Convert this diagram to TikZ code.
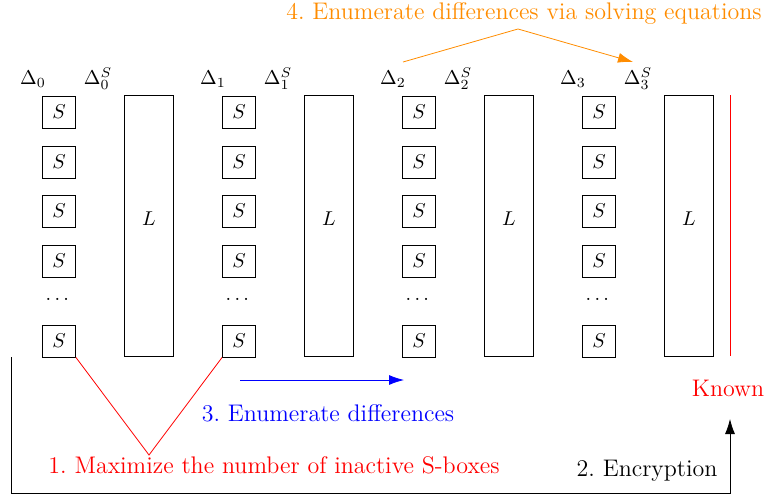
\documentclass[tikz,border=0pt]{standalone}
\usepackage{amsmath,amssymb}
\usetikzlibrary{arrows.meta}
\definecolor{darkorange}{RGB}{255,140,0}

\begin{document}
\begin{tikzpicture}[x=0.5pt, y=-0.5pt, sbox/.style = {draw, rectangle, inner sep=0pt, minimum width=16.5pt, minimum height=16pt}, lbox/.style = {draw, rectangle, inner sep=0pt, minimum width=24.5pt, minimum height=130.5pt}, dlabel/.style = {inner sep=0pt}, steptext/.style = {font=\large, inner sep=1pt}, tip/.style = {-{Latex[length=7.5pt, width=5pt]}}]
        \useasboundingbox (0,0) rectangle (766,498);
        \foreach \i/\x in {0/59, 1/239, 2/419, 3/599} {
            \node[dlabel] (D\i) at (\x-26, 79) {$\Delta_{\i}$};
            \node[dlabel] (DS\i) at (\x+39, 79) {$\Delta_{\i}^{S}$};
            \node[sbox] (S\i-1) at (\x, 112) {$S$};
            \node[sbox] (S\i-2) at (\x, 162) {$S$};
            \node[sbox] (S\i-3) at (\x, 211) {$S$};
            \node[sbox] (S\i-4) at (\x, 261) {$S$};
            \node (dots\i) at (\x, 299) {$\dots$};
            \node[sbox] (S\i-5) at (\x, 341) {$S$};
            \node[lbox] (L\i) at (\x+90, 225.5) {};
            \node (Ltext\i) at (\x+90, 219) {$L$};
        }
        % known output
        \coordinate (kt) at (730, 95);
        \coordinate (kb) at (730, 356);
        \draw[red] (kt) -- (kb);
        \node[steptext, red] (known) at (728, 388) {Known};
        % 1. inactive S-boxes
        \coordinate (v) at (149, 455);
        \draw[red] (S0-5.south east) -- (v) -- (S1-5.south west);
        \node[steptext, red] (step1) at (274, 465) {1.~Maximize the number of inactive S-boxes};
        % 2. encryption
        \coordinate (es) at (11, 357);
        \coordinate (eb) at (11, 493);
        \coordinate (et) at (730, 419);
        \draw[tip] (es) -- (eb) -| (et);
        \node[steptext] (step2) at (647, 471) {2.~Encryption};
        % 3. enumerate differences
        \coordinate (bs) at (240, 380);
        \coordinate (be) at (404, 380);
        \draw[blue, tip] (bs) -- (be);
        \node[steptext, blue] (step3) at (328, 413) {3.~Enumerate differences};
        % 4. solving equations
        \coordinate (os) at (403, 62);
        \coordinate (ot) at (518, 29);
        \coordinate (oe) at (633, 62);
        \draw[darkorange, tip] (os) -- (ot) -- (oe);
        \node[steptext, darkorange] (step4) at (524, 14) {4.~Enumerate differences via solving equations};
    \end{tikzpicture}
\end{document}
